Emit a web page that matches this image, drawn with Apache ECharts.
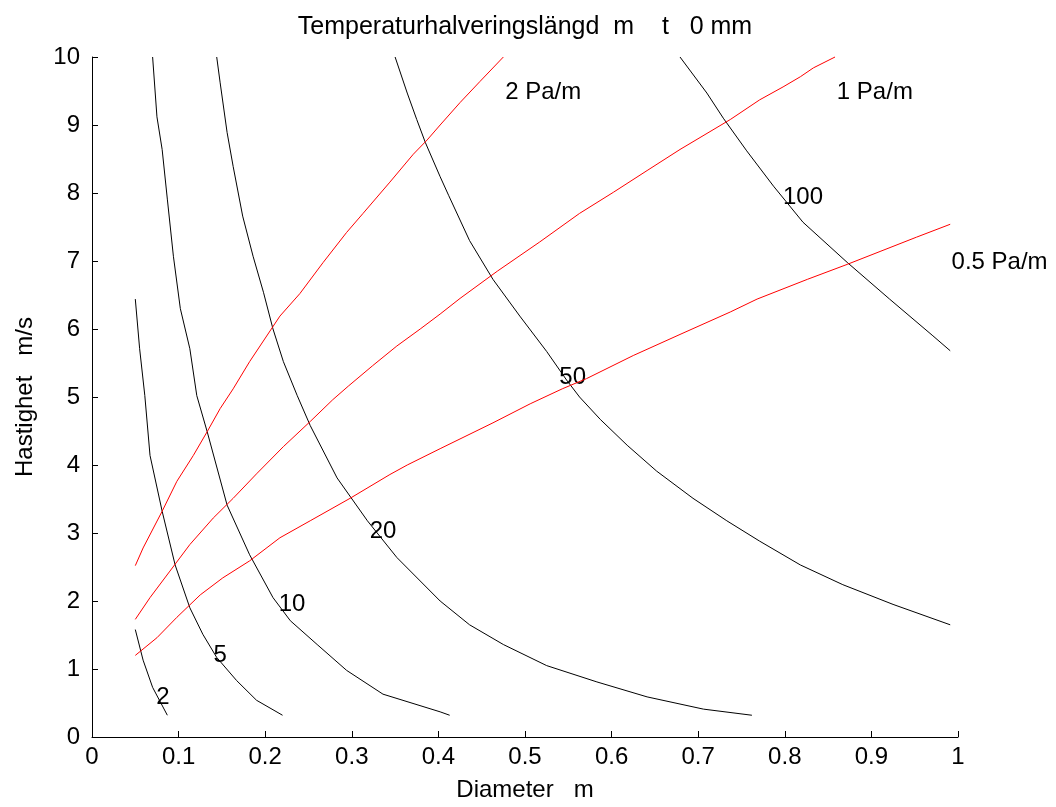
<!DOCTYPE html>
<html>
<head>
<meta charset="utf-8">
<script src="https://cdn.jsdelivr.net/npm/echarts@6/dist/echarts.min.js"></script>
<style>
html,body{margin:0;padding:0;background:#fff;}
#chart{width:1056px;height:807px;}
</style>
</head>
<body>
<div id="chart"></div>
<script>
// Black curves: temperature halving length
const curve2 = [[0.050,1.58],[0.059,1.13],[0.070,0.73],[0.087,0.32]];
const curve5 = [[0.050,6.44],[0.055,5.71],[0.061,5.02],[0.067,4.14],[0.081,3.32],[0.096,2.53],[0.113,1.90],[0.128,1.51],[0.144,1.17],[0.167,0.83],[0.190,0.54],[0.220,0.32]];
const curve10 = [[0.070,10.0],[0.075,9.12],[0.081,8.64],[0.087,7.91],[0.094,7.07],[0.102,6.30],[0.113,5.71],[0.121,5.02],[0.133,4.49],[0.156,3.41],[0.182,2.68],[0.209,2.05],[0.229,1.71],[0.260,1.36],[0.294,0.98],[0.336,0.63],[0.402,0.37],[0.413,0.32]];
const curve20 = [[0.144,10.0],[0.148,9.62],[0.156,8.89],[0.163,8.39],[0.174,7.66],[0.186,7.07],[0.198,6.54],[0.209,6.00],[0.221,5.52],[0.237,5.02],[0.252,4.58],[0.283,3.81],[0.318,3.18],[0.352,2.64],[0.402,2.00],[0.436,1.65],[0.475,1.36],[0.525,1.05],[0.583,0.81],[0.641,0.59],[0.706,0.41],[0.762,0.32]];
const curve50 = [[0.350,10.0],[0.364,9.47],[0.375,9.08],[0.385,8.74],[0.402,8.24],[0.412,7.96],[0.436,7.30],[0.463,6.73],[0.494,6.19],[0.525,5.67],[0.548,5.25],[0.563,5.00],[0.587,4.67],[0.618,4.29],[0.652,3.91],[0.694,3.51],[0.733,3.18],[0.771,2.88],[0.818,2.53],[0.867,2.24],[0.925,1.95],[0.991,1.65]];
const curve100 = [[0.679,10.0],[0.710,9.47],[0.729,9.10],[0.756,8.62],[0.787,8.10],[0.821,7.57],[0.872,6.98],[0.921,6.44],[0.971,5.90],[0.991,5.68]];

// Red curves: pressure drop
const red2 = [[0.050,2.52],[0.059,2.78],[0.081,3.32],[0.098,3.76],[0.117,4.14],[0.133,4.49],[0.148,4.83],[0.163,5.12],[0.182,5.52],[0.217,6.19],[0.240,6.52],[0.267,6.98],[0.294,7.42],[0.313,7.70],[0.344,8.16],[0.371,8.57],[0.387,8.78],[0.402,9.00],[0.425,9.33],[0.448,9.64],[0.475,10.0]];
const red1 = [[0.050,1.73],[0.067,2.05],[0.090,2.44],[0.113,2.83],[0.140,3.22],[0.163,3.51],[0.190,3.87],[0.221,4.27],[0.252,4.64],[0.278,4.96],[0.296,5.16],[0.324,5.46],[0.352,5.75],[0.379,6.00],[0.402,6.22],[0.425,6.45],[0.468,6.85],[0.517,7.28],[0.563,7.70],[0.602,8.01],[0.641,8.33],[0.679,8.64],[0.737,9.08],[0.771,9.37],[0.798,9.56],[0.818,9.71],[0.833,9.84],[0.858,10.0]];
const red05 = [[0.050,1.20],[0.075,1.46],[0.098,1.76],[0.125,2.09],[0.151,2.34],[0.182,2.59],[0.217,2.93],[0.252,3.18],[0.298,3.51],[0.344,3.86],[0.364,4.00],[0.402,4.24],[0.463,4.62],[0.506,4.90],[0.543,5.12],[0.571,5.27],[0.625,5.61],[0.679,5.92],[0.737,6.25],[0.768,6.44],[0.826,6.73],[0.872,6.95],[0.910,7.14],[0.952,7.35],[0.991,7.54]];

// Text labels (data coordinates)
const curveLabels = [[0.082,0.63,'2'],[0.148,1.24,'5'],[0.231,2.00,'10'],[0.336,3.07,'20'],[0.555,5.34,'50'],[0.821,7.98,'100']];
const redLabels = [[0.521,9.52,'2 Pa/m'],[0.904,9.52,'1 Pa/m'],[1.048,7.03,'0.5 Pa/m']];

const SP = '\u00a0';
const titleText = 'Temperaturhalveringslängd' + SP.repeat(2) + 'm' + SP.repeat(4) + 't' + SP.repeat(3) + '0 mm';
const xName = 'Diameter' + SP.repeat(3) + 'm';
const yName = 'Hastighet' + SP.repeat(3) + 'm/s';

const FONT = 'Liberation Sans, Arial, sans-serif';
const FS = 24;

function lineSeries(data, color) {
  return {type:'line', data:data, showSymbol:false, symbol:'none', smooth:false,
    lineStyle:{color:color, width:1}, silent:true, clip:false};
}
function labelSeries(data) {
  return {type:'scatter', data:data, symbolSize:0, itemStyle:{color:'#000', opacity:1}, clip:false, silent:true,
    label:{show:true, position:'inside', offset:[0,3], formatter:p=>p.data[2], color:'#000',
      textBorderWidth:0, fontSize:FS, fontFamily:FONT}};
}

const chart = echarts.init(document.getElementById('chart'), null, {renderer:'canvas'});
chart.setOption({
  animation:false,
  backgroundColor:'#fff',
  title:{text:titleText, left:520, textAlign:'center', top:10,
    textStyle:{fontSize:25, fontWeight:'normal', color:'#000', fontFamily:FONT}},
  grid:{left:92, right:98, top:57, bottom:67, containLabel:false},
  xAxis:{type:'value', min:0, max:1, interval:0.1,
    name:xName, nameLocation:'middle', nameGap:41,
    nameTextStyle:{fontSize:FS, color:'#000', fontFamily:FONT},
    axisLine:{show:true, onZero:false, lineStyle:{color:'#000', width:1}},
    axisTick:{show:true, inside:true, length:6, lineStyle:{color:'#000'}},
    axisLabel:{color:'#000', fontSize:FS, fontFamily:FONT, margin:8,
      formatter:v=>String(Math.round(v*10)/10)},
    splitLine:{show:false}},
  yAxis:{type:'value', min:0, max:10, interval:1,
    name:yName, nameLocation:'middle', nameGap:55, nameRotate:90,
    nameTextStyle:{fontSize:FS, color:'#000', fontFamily:FONT},
    axisLine:{show:true, onZero:false, lineStyle:{color:'#000', width:1}},
    axisTick:{show:true, inside:true, length:6, lineStyle:{color:'#000'}},
    axisLabel:{color:'#000', fontSize:FS, fontFamily:FONT, margin:12},
    splitLine:{show:false}},
  series:[
    lineSeries(curve2,'#000'), lineSeries(curve5,'#000'), lineSeries(curve10,'#000'),
    lineSeries(curve20,'#000'), lineSeries(curve50,'#000'), lineSeries(curve100,'#000'),
    lineSeries(red2,'#ff0000'), lineSeries(red1,'#ff0000'), lineSeries(red05,'#ff0000'),
    labelSeries(curveLabels), labelSeries(redLabels)
  ]
});
</script>
</body>
</html>
